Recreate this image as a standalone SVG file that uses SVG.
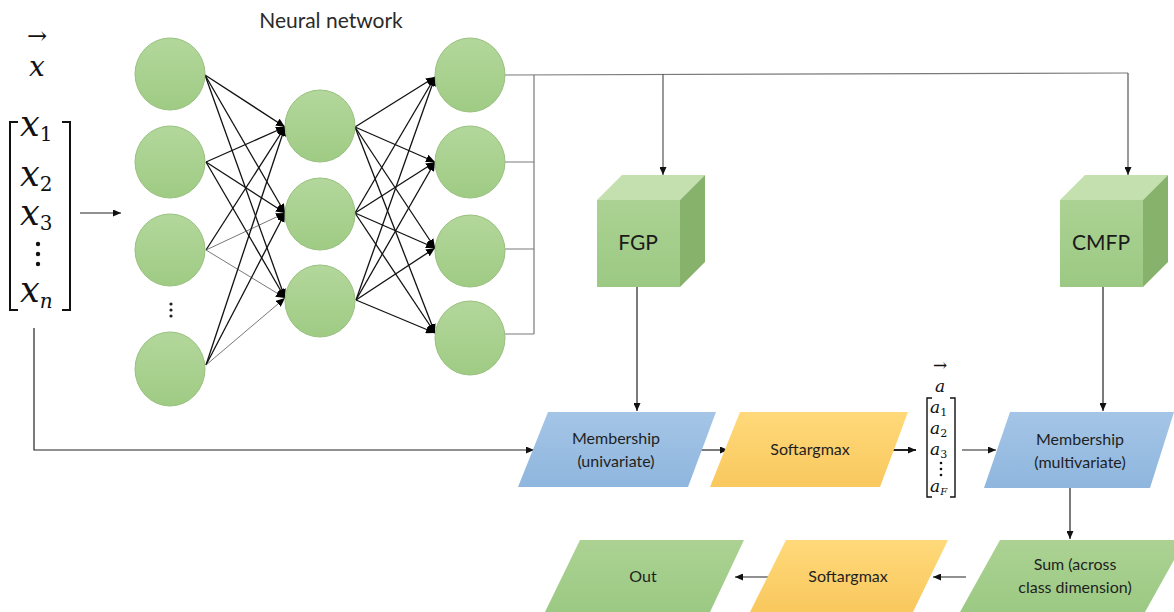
<svg xmlns="http://www.w3.org/2000/svg" width="1174" height="612" viewBox="0 0 1174 612">
<defs>
<linearGradient id="gCirc" x1="0" y1="0" x2="0" y2="1"><stop offset="0" stop-color="#b3d79b"/><stop offset="1" stop-color="#9fcb84"/></linearGradient>
<linearGradient id="gGreen" x1="0" y1="0" x2="0" y2="1"><stop offset="0" stop-color="#acd293"/><stop offset="1" stop-color="#9bc983"/></linearGradient>
<linearGradient id="gBlue" x1="0" y1="0" x2="0" y2="1"><stop offset="0" stop-color="#a4c5e6"/><stop offset="1" stop-color="#8fb6de"/></linearGradient>
<linearGradient id="gYellow" x1="0" y1="0" x2="0" y2="1"><stop offset="0" stop-color="#ffd97a"/><stop offset="1" stop-color="#f9c85e"/></linearGradient>
<marker id="ah" markerUnits="userSpaceOnUse" markerWidth="9" markerHeight="8" refX="9" refY="4" orient="auto"><path d="M0,0 L9,4 L0,8 z" fill="#000"/></marker>
<marker id="ahs" markerUnits="userSpaceOnUse" markerWidth="8" markerHeight="7" refX="8" refY="3.5" orient="auto"><path d="M0,0 L8,3.5 L0,7 z" fill="#111"/></marker>
</defs>
<style>
.nn{fill:url(#gCirc);stroke:#98c17f;stroke-width:1}
.e{stroke:#111;stroke-width:1.3;fill:none;marker-end:url(#ah)}
.ef{stroke:#555;stroke-width:0.8;fill:none;marker-end:url(#ah)}
.bus{stroke:#7a7a7a;stroke-width:1.2;fill:none}
.c{stroke:#222;stroke-width:1.2;fill:none;marker-end:url(#ahs)}
.lbl{font-family:Lato,"Open Sans",sans-serif;font-size:16px;fill:#1f1f1f;text-anchor:middle}
.big{font-family:Lato,"Open Sans",sans-serif;font-size:21px;fill:#1a1a1a;text-anchor:middle}
.math{font-family:"DejaVu Serif","Liberation Serif",serif;font-style:italic;fill:#111}
.up{font-family:"DejaVu Serif","Liberation Serif",serif;font-style:normal;fill:#111}
.brk{stroke:#111;stroke-width:2;fill:none}
.top{fill:#c3e0ae}
.front{fill:url(#gGreen)}
.side{fill:#86b26c}
</style>
<rect width="1174" height="612" fill="#fff"/>

<text x="331" y="28" font-family="Lato,'Open Sans',sans-serif" font-size="21" fill="#2a2a2a" text-anchor="middle">Neural network</text>

<g id="input-vector">
<text x="37" y="44" class="up" font-size="24" text-anchor="middle">→</text>
<text x="37" y="76" class="math" font-size="28" text-anchor="middle">x</text>
<path class="brk" d="M18,122 L10,122 L10,310 L18,310"/>
<path class="brk" d="M62,122 L70,122 L70,310 L62,310"/>
<text x="20" y="136" class="math" font-size="35">x<tspan class="up" font-size="20" dy="5">1</tspan></text>
<text x="20" y="186" class="math" font-size="35">x<tspan class="up" font-size="20" dy="5">2</tspan></text>
<text x="20" y="225" class="math" font-size="35">x<tspan class="up" font-size="20" dy="5">3</tspan></text>
<g fill="#111"><circle cx="38" cy="244" r="2.2"/><circle cx="38" cy="254" r="2.2"/><circle cx="38" cy="264" r="2.2"/></g>
<text x="20" y="302" class="math" font-size="35">x<tspan font-size="20" dy="6">n</tspan></text>
</g>

<g id="connectors">
<line class="c" x1="80" y1="213" x2="121" y2="213"/>
<line class="e" x1="205" y1="75" x2="285" y2="127"/>
<line class="e" x1="205" y1="75" x2="285" y2="213"/>
<line class="e" x1="205" y1="75" x2="285" y2="298"/>
<line class="e" x1="206" y1="162" x2="285" y2="127"/>
<line class="e" x1="206" y1="162" x2="285" y2="213"/>
<line class="e" x1="206" y1="162" x2="285" y2="298"/>
<line class="e" x1="206" y1="250" x2="285" y2="127"/>
<line class="ef" x1="206" y1="250" x2="285" y2="213"/>
<line class="ef" x1="206" y1="250" x2="285" y2="298"/>
<line class="e" x1="206" y1="365" x2="285" y2="127"/>
<line class="e" x1="206" y1="365" x2="285" y2="213"/>
<line class="ef" x1="206" y1="365" x2="285" y2="298"/>
<line class="e" x1="355" y1="127" x2="435" y2="77"/>
<line class="e" x1="355" y1="127" x2="435" y2="162"/>
<line class="e" x1="355" y1="127" x2="435" y2="248"/>
<line class="e" x1="355" y1="127" x2="435" y2="333"/>
<line class="e" x1="355" y1="213" x2="435" y2="77"/>
<line class="e" x1="355" y1="213" x2="435" y2="162"/>
<line class="e" x1="355" y1="213" x2="435" y2="248"/>
<line class="e" x1="355" y1="213" x2="435" y2="333"/>
<line class="e" x1="356" y1="300" x2="435" y2="77"/>
<line class="e" x1="356" y1="300" x2="435" y2="162"/>
<line class="e" x1="356" y1="300" x2="435" y2="248"/>
<line class="e" x1="356" y1="300" x2="435" y2="333"/>
<path class="bus" d="M505,75 L1128,73"/>
<path class="bus" d="M505,162 L534,162 M505,249 L534,249 M505,334 L534,334 M534,75 L534,334"/>
<line class="c" x1="663" y1="74" x2="663" y2="175" style="stroke:#555"/>
<line class="c" x1="1128" y1="73" x2="1128" y2="175" style="stroke:#555"/>
<line class="c" x1="637" y1="287" x2="637" y2="411"/>
<line class="c" x1="1103" y1="287" x2="1103" y2="411"/>
<path class="c" d="M34,328 L34,450 L534,450"/>
<line class="c" x1="697" y1="450" x2="728" y2="450"/>
<line class="c" x1="880" y1="450" x2="916" y2="450" style="stroke-width:2.2"/>
<line class="c" x1="962" y1="450" x2="996" y2="450"/>
<line class="c" x1="1070" y1="488" x2="1070" y2="539"/>
<line class="c" x1="966" y1="577" x2="933" y2="577"/>
<line class="c" x1="770" y1="577" x2="735" y2="577"/>
</g>

<g id="input-layer">
<ellipse class="nn" cx="170" cy="74" rx="35" ry="36"/>
<ellipse class="nn" cx="170" cy="162" rx="35" ry="36"/>
<ellipse class="nn" cx="170" cy="250" rx="35" ry="36"/>
<g fill="#222"><circle cx="171" cy="304" r="1.6"/><circle cx="171" cy="310" r="1.6"/><circle cx="171" cy="316" r="1.6"/></g>
<ellipse class="nn" cx="170" cy="369" rx="35" ry="37"/>
</g>
<g id="hidden-layer">
<ellipse class="nn" cx="320" cy="126" rx="35" ry="36"/>
<ellipse class="nn" cx="320" cy="214" rx="35" ry="36"/>
<ellipse class="nn" cx="320" cy="301" rx="35" ry="36"/>
</g>
<g id="output-layer">
<ellipse class="nn" cx="470" cy="75" rx="35" ry="37"/>
<ellipse class="nn" cx="470" cy="162" rx="35" ry="36"/>
<ellipse class="nn" cx="470" cy="251" rx="35" ry="36"/>
<ellipse class="nn" cx="470" cy="338" rx="35" ry="37"/>
</g>

<g id="fgp">
<polygon class="top" points="597,200 622,175 705,175 680,200"/>
<polygon class="side" points="680,200 705,175 705,262 680,287"/>
<rect class="front" x="597" y="200" width="83" height="87"/>
<text x="638" y="250" class="big">FGP</text>
</g>
<g id="cmfp">
<polygon class="top" points="1060,200 1085,175 1168,175 1143,200"/>
<polygon class="side" points="1143,200 1168,175 1168,262 1143,287"/>
<rect class="front" x="1060" y="200" width="83" height="87"/>
<text x="1101" y="250" class="big">CMFP</text>
</g>

<g id="membership-univariate">
<polygon points="548,412 716,412 688,487 518,487" fill="url(#gBlue)"/>
<text x="616" y="444" class="lbl">Membership</text>
<text x="616" y="467" class="lbl">(univariate)</text>
</g>
<g id="softargmax-1">
<polygon points="740,412 908,412 880,487 710,487" fill="url(#gYellow)"/>
<text x="810" y="455" class="lbl">Softargmax</text>
</g>
<g id="a-vector">
<text x="940" y="371" class="up" font-size="17" text-anchor="middle">→</text>
<text x="940" y="392" class="math" font-size="17" text-anchor="middle">a</text>
<path class="brk" d="M932,398 L927,398 L927,497 L932,497" style="stroke-width:1.4"/>
<path class="brk" d="M950,398 L955,398 L955,497 L950,497" style="stroke-width:1.4"/>
<text x="930" y="413" class="math" font-size="17">a<tspan class="up" font-size="11" dy="3">1</tspan></text>
<text x="930" y="434" class="math" font-size="17">a<tspan class="up" font-size="11" dy="3">2</tspan></text>
<text x="930" y="455" class="math" font-size="17">a<tspan class="up" font-size="11" dy="3">3</tspan></text>
<g fill="#111"><circle cx="941" cy="463" r="1.3"/><circle cx="941" cy="469" r="1.3"/><circle cx="941" cy="475" r="1.3"/></g>
<text x="930" y="492" class="math" font-size="17">a<tspan font-size="10" dy="3">F</tspan></text>
</g>
<g id="membership-multivariate">
<polygon points="1010,412 1174,412 1150,488 984,488" fill="url(#gBlue)"/>
<text x="1080" y="445" class="lbl">Membership</text>
<text x="1080" y="468" class="lbl">(multivariate)</text>
</g>
<g id="sum">
<polygon points="1000,540 1174,540 1174,560 1145,612 960,612" fill="url(#gGreen)"/>
<text x="1075" y="570" class="lbl">Sum (across</text>
<text x="1075" y="593" class="lbl">class dimension)</text>
</g>
<g id="softargmax-2">
<polygon points="786,540 948,540 913,612 750,612" fill="url(#gYellow)"/>
<text x="848" y="582" class="lbl">Softargmax</text>
</g>
<g id="out">
<polygon points="580,540 744,540 710,612 545,612" fill="url(#gGreen)"/>
<text x="643" y="582" class="lbl">Out</text>
</g>
</svg>
